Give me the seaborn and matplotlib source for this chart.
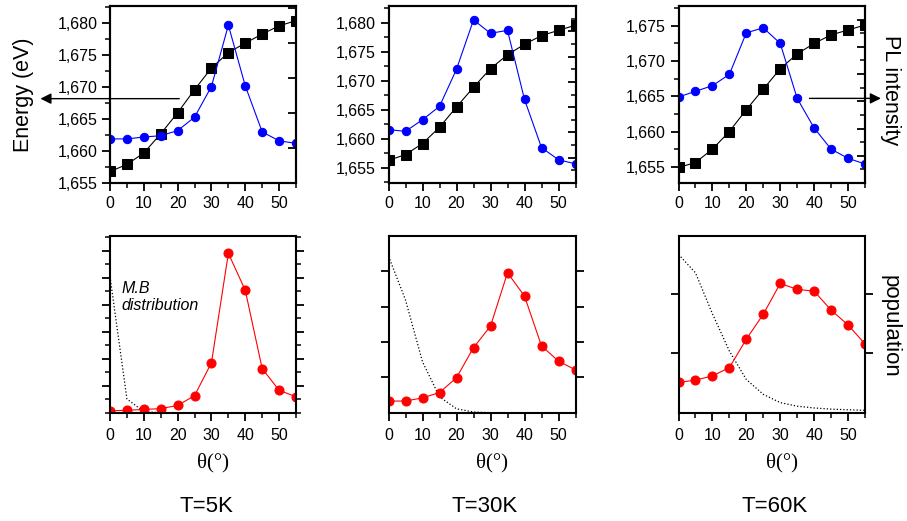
import matplotlib
matplotlib.use("Agg")
import matplotlib.pyplot as plt
from matplotlib.ticker import MultipleLocator, FuncFormatter, FixedLocator
import seaborn as sns

# angle values (degrees)
theta = [0, 5, 10, 15, 20, 25, 30, 35, 40, 45, 50, 55]
temperatures = ["T=5K", "T=30K", "T=60K"]

# top row: energy (black squares) and PL intensity (blue circles, read on the energy scale)
energy_5K = [1.6568, 1.6579, 1.6597, 1.6627, 1.6660, 1.6696, 1.6730, 1.6754, 1.6769, 1.6783, 1.6796, 1.6804]
pl_5K = [1.6619, 1.6619, 1.6622, 1.6624, 1.6632, 1.6653, 1.6701, 1.6797, 1.6702, 1.6630, 1.6616, 1.6612]
energy_30K = [1.6563, 1.6573, 1.6592, 1.6620, 1.6655, 1.6689, 1.6721, 1.6745, 1.6763, 1.6778, 1.6787, 1.6796]
pl_30K = [1.6616, 1.6613, 1.6633, 1.6656, 1.6720, 1.6805, 1.6782, 1.6787, 1.6668, 1.6585, 1.6564, 1.6557]
energy_60K = [1.6549, 1.6556, 1.6575, 1.6600, 1.6631, 1.6660, 1.6689, 1.6710, 1.6725, 1.6737, 1.6744, 1.6751]
pl_60K = [1.6649, 1.6657, 1.6665, 1.6681, 1.6740, 1.6747, 1.6725, 1.6647, 1.6605, 1.6575, 1.6562, 1.6554]

# bottom row: population (red circles) and Maxwell-Boltzmann distribution (dotted)
population_5K = [0.07, 0.09, 0.12, 0.15, 0.27, 0.63, 1.85, 5.90, 4.53, 1.63, 0.83, 0.59]
mb_5K = [5.04, 0.51, 0.04, 0.0, 0.0, 0.0, 0.0, 0.0, 0.0, 0.0, 0.0, 0.0]
population_30K = [0.33, 0.33, 0.42, 0.57, 0.99, 1.84, 2.45, 3.96, 3.30, 1.89, 1.46, 1.21]
mb_30K = [4.43, 3.19, 1.44, 0.45, 0.11, 0.02, 0.0, 0.0, 0.0, 0.0, 0.0, 0.0]
population_60K = [0.51, 0.55, 0.62, 0.76, 1.24, 1.66, 2.18, 2.08, 2.05, 1.73, 1.48, 1.16]
mb_60K = [2.67, 2.36, 1.67, 1.04, 0.56, 0.31, 0.17, 0.11, 0.08, 0.06, 0.05, 0.04]

energies = [energy_5K, energy_30K, energy_60K]
pls = [pl_5K, pl_30K, pl_60K]
populations = [population_5K, population_30K, population_60K]
mbs = [mb_5K, mb_30K, mb_60K]

top_ylims = [(1.6550, 1.6827), (1.6524, 1.6829), (1.6527, 1.6778)]
bottom_ylims = [(0, 6.54), (0, 5.0), (0, 2.98)]
bottom_ticks = [[1, 2, 3, 4, 5, 6], [1, 2, 3, 4], [1, 2]]
right_lims = [(0, 5.06), (0, 14), (0, 13)]

sns.set_style("ticks")
plt.rcParams['font.family'] = ['Liberation Sans', 'DejaVu Sans']
plt.rcParams['axes.linewidth'] = 1.5
plt.rcParams['axes.edgecolor'] = 'black'
plt.rcParams['text.color'] = 'black'
plt.rcParams['xtick.color'] = 'black'
plt.rcParams['ytick.color'] = 'black'
plt.rcParams['xtick.major.width'] = 1.3
plt.rcParams['ytick.major.width'] = 1.3
plt.rcParams['xtick.minor.width'] = 1.1
plt.rcParams['ytick.minor.width'] = 1.1

W, H = 907, 521
fig = plt.figure(figsize=(W / 100, H / 100), dpi=100)

cols = [(110, 296), (388.5, 575.5), (678.5, 865)]


def px_axes(left, right, top, bottom):
    return fig.add_axes([left / W, 1 - bottom / H, (right - left) / W, (bottom - top) / H])


comma_fmt = FuncFormatter(lambda v, pos: f"{v:.3f}".replace('.', ','))

for i, (l, r) in enumerate(cols):
    # ---- top: energy vs angle
    ax = px_axes(l, r, 6, 183)
    sns.lineplot(x=theta, y=energies[i], ax=ax, color='black', marker='s', markersize=6.5,
                 markeredgecolor='black', linewidth=0.8)
    sns.lineplot(x=theta, y=pls[i], ax=ax, color='blue', marker='o', markersize=6,
                 markeredgecolor='blue', linewidth=0.8)
    ax.set_xlim(0, 55)
    ax.set_ylim(*top_ylims[i])
    ax.xaxis.set_major_locator(MultipleLocator(10))
    ax.xaxis.set_minor_locator(MultipleLocator(5))
    ax.yaxis.set_major_locator(MultipleLocator(0.005))
    ax.yaxis.set_minor_locator(MultipleLocator(0.0025))
    ax.yaxis.set_major_formatter(comma_fmt)
    ax.tick_params(which='major', length=6, labelsize=11.5, pad=3)
    ax.tick_params(which='minor', length=3.5)
    for s in ax.spines.values():
        s.set_visible(True)

    ax2 = ax.twinx()
    ax2.set_ylim(*right_lims[i])
    if i == 0:
        ax2.yaxis.set_major_locator(MultipleLocator(1))
    else:
        ax2.yaxis.set_major_locator(MultipleLocator(2))
        ax2.yaxis.set_minor_locator(MultipleLocator(1))
    ax2.tick_params(axis='y', which='major', direction='in', length=6, labelright=False)
    ax2.tick_params(axis='y', which='minor', direction='in', length=3.5)

    # ---- bottom: population vs angle
    bx = px_axes(l, r, 236, 412.7)
    sns.lineplot(x=theta, y=mbs[i], ax=bx, color='black', linestyle=':', linewidth=0.9)
    sns.lineplot(x=theta, y=populations[i], ax=bx, color='red', marker='o', markersize=6.5,
                 markeredgecolor='red', linewidth=0.8)
    bx.set_xlim(0, 55)
    bx.set_ylim(*bottom_ylims[i])
    bx.xaxis.set_major_locator(MultipleLocator(10))
    bx.xaxis.set_minor_locator(MultipleLocator(5))
    bx.yaxis.set_major_locator(FixedLocator(bottom_ticks[i]))
    if i == 0:
        bx.yaxis.set_minor_locator(MultipleLocator(0.5))
    bx.yaxis.set_major_formatter(FuncFormatter(lambda v, pos: ""))
    bx.tick_params(which='major', length=6, labelsize=11.5, pad=5)
    bx.tick_params(which='minor', length=3.5)
    bx.tick_params(axis='y', which='both', right=True)
    for s in bx.spines.values():
        s.set_visible(True)

    # labels under each column
    cx = (l + r) / 2
    fig.text((cx + 10) / W, 1 - 463 / H, "θ(°)", ha='center', va='center', fontsize=15,
             family=['Liberation Serif', 'DejaVu Serif'])
    fig.text((cx + 3) / W, 1 - 506 / H, temperatures[i], ha='center', va='center', fontsize=16)

    if i == 0:
        ax.annotate('', xy=(-21.4, 1.6682), xytext=(21.3, 1.6682), annotation_clip=False,
                    arrowprops=dict(arrowstyle='-|>', color='black', lw=1.0, mutation_scale=16))
        bx.text(3.3, 4.6, "M.B", fontsize=11.5, style='italic', va='center')
        bx.text(3.3, 3.95, "distribution", fontsize=11.5, style='italic', va='center')
    if i == 2:
        ax.annotate('', xy=(60.5, 1.6647), xytext=(37.8, 1.6647), annotation_clip=False,
                    arrowprops=dict(arrowstyle='-|>', color='black', lw=1.0, mutation_scale=16))

fig.text(24 / W, 1 - 95 / H, "Energy (eV)", rotation=90, ha='center', va='center', fontsize=15.5)
fig.text(890 / W, 1 - 90 / H, "PL intensity", rotation=270, ha='center', va='center', fontsize=15.5)
fig.text(890 / W, 1 - 326 / H, "population", rotation=270, ha='center', va='center', fontsize=16)

fig.savefig("out.png", dpi=100)
